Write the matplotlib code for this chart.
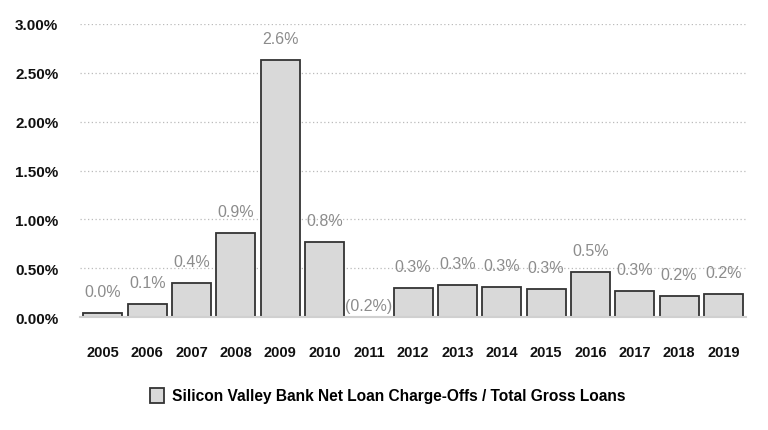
import numpy as np
import matplotlib
matplotlib.use("Agg")
import matplotlib.pyplot as plt
from matplotlib.ticker import FuncFormatter

plt.rcParams['font.family'] = ['Liberation Sans', 'DejaVu Sans']

years = ['2005', '2006', '2007', '2008', '2009', '2010', '2011', '2012',
         '2013', '2014', '2015', '2016', '2017', '2018', '2019']
# net charge-offs / total gross loans, in %
ratio = [0.04, 0.13, 0.35, 0.86, 2.63, 0.77, -0.2, 0.30,
         0.33, 0.31, 0.29, 0.46, 0.27, 0.22, 0.24]
labels = ['0.0%', '0.1%', '0.4%', '0.9%', '2.6%', '0.8%', '(0.2%)', '0.3%',
          '0.3%', '0.3%', '0.3%', '0.5%', '0.3%', '0.2%', '0.2%']

fig = plt.figure(figsize=(7.68, 4.31), dpi=100)
ax = fig.add_axes([0.104, 0.262, 0.868, 0.68])

x = np.arange(len(years))
ax.bar(x, ratio, width=0.88, color='#d9d9d9', edgecolor='#333333',
       linewidth=1.3, zorder=3,
       label='Silicon Valley Bank Net Loan Charge-Offs / Total Gross Loans')

for xi, v, t in zip(x, ratio, labels):
    off = 10 if v >= 0 else 3  # negative year: label sits just over the axis
    ax.annotate(t, (xi, max(v, 0)), xytext=(0, off), textcoords='offset points',
                ha='center', va='bottom', fontsize=11.5, color='#8c8c8c')

ax.set_ylim(0, 3.0)
ax.set_xlim(-0.52, len(years) - 0.48)
ax.set_yticks(np.arange(0, 3.01, 0.5))
ax.yaxis.set_major_formatter(FuncFormatter(lambda v, p: '%.2f%%' % v))
ax.set_xticks(x)
ax.set_xticklabels(years)
for lab in ax.get_xticklabels():
    lab.set_fontweight('bold')
    lab.set_fontsize(10.5)
    lab.set_color('#111111')
for lab in ax.get_yticklabels():
    lab.set_fontweight('bold')
    lab.set_fontsize(11)
    lab.set_color('#111111')

ax.grid(axis='y', linestyle=(0, (1, 2)), color='#bbbbbb', linewidth=0.9, zorder=0)
ax.tick_params(axis='x', length=0, pad=20)
ax.tick_params(axis='y', length=0, pad=15.5)
for s in ['top', 'right', 'left']:
    ax.spines[s].set_visible(False)
ax.spines['bottom'].set_color('#d0d0d0')
ax.spines['bottom'].set_linewidth(1.5)
ax.spines['bottom'].set_zorder(4)

fig.legend(loc='center', bbox_to_anchor=(0.505, 0.08), frameon=False,
           prop={'weight': 'bold', 'size': 11.2}, handlelength=0.9,
           handleheight=1.1, handletextpad=0.5)

fig.savefig('out.png', dpi=100)
